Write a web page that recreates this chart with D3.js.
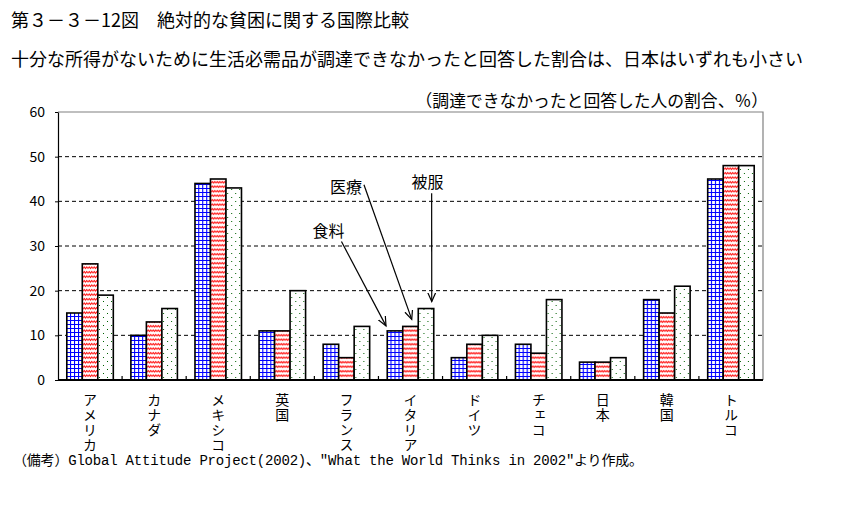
<!DOCTYPE html>
<html><head><meta charset="utf-8">
<script src="https://cdn.jsdelivr.net/npm/d3@7/dist/d3.min.js"></script>
<style>body{margin:0;background:#fff}svg{display:block}</style>
</head><body>
<svg id="c" width="861" height="512"></svg>
<script>
const categories = ["アメリカ","カナダ","メキシコ","英国","フランス","イタリア","ドイツ","チェコ","日本","韓国","トルコ"];
const seriesNames = ["食料","医療","被服"];
const food     = [15,10,44,11, 8,11, 5, 8,4,18,45];
const medical  = [26,13,45,11, 5,12, 8, 6,4,15,48];
const clothing = [19,16,43,20,12,16,10,18,5,21,48];
const yTicks = [0,10,20,30,40,50,60];
const titleText = "第３－３－12図　絶対的な貧困に関する国際比較";
const subtitleText = "十分な所得がないために生活必需品が調達できなかったと回答した割合は、日本はいずれも小さい";
const unitText = "（調達できなかったと回答した人の割合、％）";
const noteText = "（備考）Global Attitude Project(2002)、\"What the World Thinks in 2002\"より作成。";
// annotation: which category/series the arrow points at, label position in data space
const annotations = [
  {label:"食料", cat:"イタリア", series:0, textDx:-50,  textVal:33.6, startDx:-37,  startVal:31.0, endFrac:-0.08, endGap:5},
  {label:"医療", cat:"イタリア", series:1, textDx:-32.5,textVal:43.4, startDx:-14.5,startVal:43.7, endFrac:0.58,  endGap:7},
  {label:"被服", cat:"イタリア", series:2, textDx:49,   textVal:44.6, startDx:53.2, startVal:41.8, endFrac:0.87,  endGap:7}
];

const JP = "'Noto Sans CJK JP','Noto Sans',sans-serif";
const svg = d3.select("#c");
const L = 58, R = 763, T = 112, B = 380;
const values = [food, medical, clothing];

const x0 = d3.scaleBand().domain(categories).range([L, R]).padding(0);
const x1 = d3.scaleBand().domain(d3.range(3)).range([0, x0.bandwidth()]).paddingInner(0).paddingOuter(0.567);
const y = d3.scaleLinear().domain([0, 60]).range([B, T]);

// patterns
const defs = svg.append("defs");
const pg = defs.append("pattern").attr("id","pgrid").attr("patternUnits","userSpaceOnUse").attr("width",4).attr("height",4);
pg.append("rect").attr("width",4).attr("height",4).attr("fill","#fff");
pg.append("path").attr("d","M0,0.5H4M0.5,0V4").attr("stroke","#0000ff").attr("stroke-width",1.2).attr("fill","none");
const pz = defs.append("pattern").attr("id","pzig").attr("patternUnits","userSpaceOnUse").attr("width",5).attr("height",4.5);
pz.append("rect").attr("width",5).attr("height",4.5).attr("fill","#fff");
pz.append("path").attr("d","M0,3 L1.25,1.5 L2.5,3 L3.75,1.5 L5,3").attr("stroke","#ff0000").attr("stroke-width",1).attr("fill","none");
const pd = defs.append("pattern").attr("id","pdot").attr("patternUnits","userSpaceOnUse").attr("width",8).attr("height",8);
pd.append("rect").attr("width",8).attr("height",8).attr("fill","#fff");
pd.append("rect").attr("x",1).attr("y",1).attr("width",1).attr("height",1).attr("fill","#006000");
pd.append("rect").attr("x",5).attr("y",5).attr("width",1).attr("height",1).attr("fill","#006000");
const fills = ["url(#pgrid)","url(#pzig)","url(#pdot)"];

// texts
svg.append("text").attr("x",11).attr("y",19).attr("dominant-baseline","central")
  .style("font-family",JP).style("font-size","18px").text(titleText);
svg.append("text").attr("x",11).attr("y",58).attr("dominant-baseline","central")
  .style("font-family",JP).style("font-size","18px").text(subtitleText);
svg.append("text").attr("x",768).attr("y",100).attr("text-anchor","end").attr("dominant-baseline","central")
  .style("font-family",JP).style("font-size","16.8px").text(unitText);

// gridlines
svg.append("g").selectAll("line").data(yTicks.filter(v=>v>0 && v<60)).join("line")
  .attr("x1",L).attr("x2",R).attr("y1",d=>y(d)).attr("y2",d=>y(d))
  .attr("stroke","#000").attr("stroke-dasharray","4,3").attr("stroke-width",1);
// top and right border
svg.append("path").attr("d",`M${L},${y(60)}H${R}V${B}`).attr("fill","none").attr("stroke","#808080").attr("stroke-width",1.2);

// bars
const gcat = svg.append("g").selectAll("g").data(categories).join("g")
  .attr("transform",d=>`translate(${x0(d)},0)`);
gcat.selectAll("rect").data((d,i)=>values.map((s,k)=>({k, v:s[i]}))).join("rect")
  .attr("x",d=>x1(d.k)).attr("width",x1.bandwidth())
  .attr("y",d=>y(d.v)).attr("height",d=>B - y(d.v))
  .attr("fill",d=>fills[d.k]).attr("stroke","#000").attr("stroke-width",1.6);

// y axis
const ya = svg.append("g").attr("transform",`translate(${L},0)`)
  .call(d3.axisLeft(y).tickValues(yTicks).tickSize(3).tickSizeOuter(0).tickPadding(10));
ya.select(".domain").attr("stroke","#000").attr("stroke-width",1.2);
ya.selectAll("text").style("font-family",JP).style("font-size","14px").attr("fill","#000");
ya.selectAll(".tick line").attr("stroke","#000");

// x axis line and category ticks
svg.append("line").attr("x1",L).attr("x2",R).attr("y1",B).attr("y2",B).attr("stroke","#000").attr("stroke-width",1.8);
svg.append("g").selectAll("line").data(categories.slice(1)).join("line")
  .attr("x1",d=>x0(d)).attr("x2",d=>x0(d)).attr("y1",B).attr("y2",B-4).attr("stroke","#000").attr("stroke-width",1.2);

// category labels (vertical writing)
svg.append("g").selectAll("text").data(categories).join("text")
  .attr("x",d=>x0(d)+x0.bandwidth()/2).attr("y",393)
  .style("writing-mode","vertical-rl").style("text-orientation","upright")
  .style("letter-spacing","1px")
  .style("font-family",JP).style("font-size","14px").text(d=>d);

// annotations
defs.append("marker").attr("id","arr").attr("markerUnits","userSpaceOnUse")
  .attr("markerWidth",12).attr("markerHeight",12).attr("refX",9).attr("refY",4).attr("orient","auto")
  .append("path").attr("d","M0,0 L9,4 L0,8").attr("fill","none").attr("stroke","#000").attr("stroke-width",1.2);
const ag = svg.append("g");
annotations.forEach(a=>{
  const bx = x0(a.cat);
  const idx = categories.indexOf(a.cat);
  const v = values[a.series][idx];
  const ex = bx + x1(a.series) + a.endFrac*x1.bandwidth();
  const ey = y(v) - a.endGap;
  ag.append("line").attr("x1",bx+a.startDx).attr("y1",y(a.startVal)).attr("x2",ex).attr("y2",ey)
    .attr("stroke","#000").attr("stroke-width",1.2).attr("marker-end","url(#arr)");
  ag.append("text").attr("x",bx+a.textDx).attr("y",y(a.textVal)).attr("text-anchor","middle")
    .attr("dominant-baseline","central").style("font-family",JP).style("font-size","16px").text(a.label);
});

// footnote
svg.append("text").attr("x",13).attr("y",461).attr("dominant-baseline","central")
  .attr("textLength",630).attr("lengthAdjust","spacing")
  .style("font-family","'Liberation Mono','Noto Sans CJK JP',monospace").style("font-size","14px").text(noteText);
</script>
</body></html>
